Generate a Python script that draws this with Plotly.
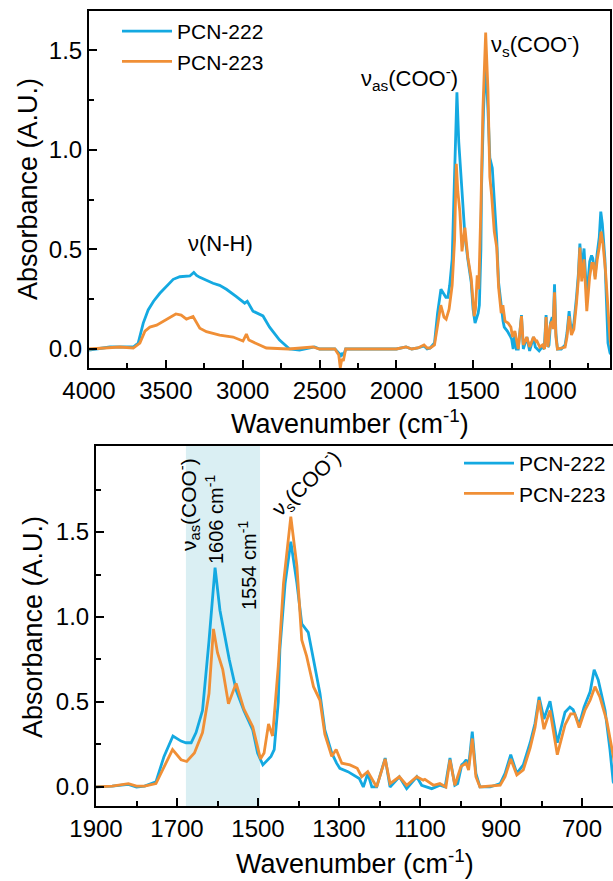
import plotly.graph_objects as go

# ---------------- data ----------------
wn_222 = [4000, 3900, 3864, 3800, 3712, 3680, 3647, 3615, 3580, 3539, 3500, 3452, 3409, 3344, 3318, 3300,
          3279, 3240, 3193, 3150, 3106, 3041, 2987, 2970, 2950, 2933, 2868, 2825, 2760, 2695, 2630, 2532,
          2500, 2400, 2375, 2365, 2355, 2345, 2330, 2200, 2000, 1937, 1900, 1860, 1820, 1800, 1780, 1752,
          1732, 1710, 1690, 1678, 1665, 1653, 1637, 1621, 1606, 1594, 1571, 1554, 1535, 1513, 1501, 1488,
          1468, 1460, 1450, 1446, 1433, 1419, 1404, 1392, 1376, 1363, 1347, 1335, 1318, 1306, 1298, 1278,
          1256, 1250, 1240, 1229, 1219, 1207, 1186, 1174, 1151, 1133, 1108, 1096, 1071, 1051, 1038, 1026,
          1014, 1007, 997, 992, 986, 980, 971, 962, 952, 927, 902, 890, 876, 861, 845, 828, 816, 806, 794,
          779, 761, 742, 730, 722, 707, 695, 680, 670, 660, 643, 631, 623, 610, 600]
abs_222 = [-0.005, 0.005, 0.01, 0.01, 0.01, 0.03, 0.13, 0.196, 0.24, 0.28, 0.31, 0.35, 0.363, 0.367, 0.385, 0.37,
           0.36, 0.345, 0.33, 0.32, 0.30, 0.263, 0.23, 0.24, 0.21, 0.19, 0.166, 0.11, 0.045, 0.0, -0.005, 0.01,
           0.0, 0.0, -0.02, -0.04, -0.02, -0.035, 0.0, 0.0, 0.0, 0.01, 0.0, 0.005, 0.015, 0.0, 0.005, 0.03,
           0.18, 0.30, 0.27, 0.26, 0.26, 0.32, 0.45, 0.86, 1.29, 1.04, 0.75, 0.57, 0.45, 0.335, 0.20, 0.13,
           0.18, 0.22, 0.5, 0.81, 1.2, 1.443, 1.2, 0.96, 0.91, 0.75, 0.55, 0.335, 0.2, 0.14, 0.11, 0.09,
           0.06, 0.05, 0.0, 0.08, 0.0, 0.0, 0.17, 0.0, 0.06, -0.01, 0.06, 0.01, -0.01, 0.01, 0.0, 0.17,
           0.01, 0.02, 0.13, 0.14, 0.16, 0.12, 0.325, 0.08, 0.0, 0.0, 0.02, 0.08, 0.19, 0.08, 0.13, 0.26, 0.375, 0.53, 0.40,
           0.505, 0.26, 0.44, 0.47, 0.455, 0.365, 0.47, 0.56, 0.69, 0.63, 0.45, 0.22, 0.03, -0.02, -0.03]

wn_223 = [4000, 3900, 3800, 3712, 3669, 3636, 3604, 3560, 3496, 3435, 3400, 3366, 3323, 3300, 3279, 3236,
          3150, 3063, 2998, 2976, 2960, 2890, 2846, 2700, 2543, 2500, 2400, 2375, 2365, 2355, 2345, 2330,
          2200, 2000, 1937, 1900, 1860, 1820, 1800, 1780, 1752, 1732, 1711, 1690, 1676, 1657, 1637, 1621,
          1610, 1600, 1587, 1573, 1554, 1535, 1513, 1494, 1485, 1474, 1464, 1450, 1437, 1419, 1404, 1392,
          1380, 1363, 1347, 1335, 1318, 1307, 1293, 1273, 1255, 1244, 1229, 1207, 1186, 1174, 1151, 1133,
          1108, 1092, 1088, 1067, 1051, 1036, 1026, 1014, 999, 986, 980, 971, 962, 952, 927, 902, 890, 876,
          861, 845, 828, 816, 806, 794, 779, 761, 742, 728, 718, 707, 693, 680, 668, 656, 639, 627, 618, 610, 600]
abs_223 = [0.0, 0.005, 0.01, 0.005, 0.03, 0.09, 0.11, 0.12, 0.15, 0.176, 0.17, 0.15, 0.163, 0.13, 0.104, 0.087,
           0.07, 0.06, 0.04, 0.075, 0.045, 0.02, 0.005, 0.0, 0.01, 0.0, 0.0, -0.03, -0.095, -0.05, -0.06, 0.0,
           0.0, 0.0, 0.01, 0.0, 0.005, 0.02, 0.005, 0.005, 0.02, 0.12, 0.22, 0.16, 0.15, 0.20, 0.32, 0.55,
           0.93, 0.79, 0.69, 0.49, 0.61, 0.46, 0.355, 0.165, 0.20, 0.37, 0.30, 0.71, 1.2, 1.59, 1.3, 0.865,
           0.77, 0.59, 0.51, 0.31, 0.18, 0.22, 0.14, 0.13, 0.11, 0.06, 0.09, 0.0, 0.165, 0.02, 0.06, 0.01,
           0.06, 0.04, 0.045, 0.01, 0.02, 0.0, 0.16, 0.01, 0.12, 0.14, 0.10, 0.285, 0.06, 0.0, 0.005, 0.01, 0.06, 0.165,
           0.07, 0.10, 0.23, 0.35, 0.51, 0.34, 0.45, 0.19, 0.365, 0.43, 0.43, 0.35, 0.45, 0.51, 0.59, 0.53, 0.39, 0.24, 0.12, 0.05, 0.0]

series_names = ["PCN-222", "PCN-223"]
y_ticks = [0.0, 0.5, 1.0, 1.5]
top_x_ticks = [4000, 3500, 3000, 2500, 2000, 1500, 1000]
bot_x_ticks = [1900, 1700, 1500, 1300, 1100, 900, 700]
shade_band = [1678, 1495]

# ---------------- styling ----------------
W, H = 613, 881
BLUE = "#14A9E1"
ORANGE = "#F08F36"
FONT = "Liberation Sans, Arial, sans-serif"

def px_x(p):
    return p / W

def px_y(p):
    return 1 - p / H

fig = go.Figure()
for (wn, ab, name, col) in [(wn_222, abs_222, series_names[0], BLUE), (wn_223, abs_223, series_names[1], ORANGE)]:
    fig.add_trace(go.Scatter(x=wn, y=ab, mode="lines", name=name, line=dict(color=col, width=2.8),
                             xaxis="x", yaxis="y", legend="legend"))
for (wn, ab, name, col) in [(wn_222, abs_222, series_names[0], BLUE), (wn_223, abs_223, series_names[1], ORANGE)]:
    fig.add_trace(go.Scatter(x=wn, y=ab, mode="lines", name=name, line=dict(color=col, width=2.8),
                             xaxis="x2", yaxis="y2", legend="legend2"))

axis_common = dict(showline=True, linecolor="black", linewidth=2, ticks="inside", ticklen=8, tickwidth=2,
                   tickcolor="black", showgrid=False, zeroline=False, automargin=False,
                   tickfont=dict(family=FONT, size=24, color="black"))

fig.update_layout(
    template="none",
    width=W, height=H, margin=dict(l=0, r=0, t=0, b=0, pad=0),
    paper_bgcolor="white", plot_bgcolor="white",
    font=dict(family=FONT, color="black"),
    xaxis=dict(domain=[px_x(89), px_x(610)], range=[4000, 610], tickvals=top_x_ticks, mirror=True,
               minor=dict(dtick=250, ticks="inside", ticklen=5, tickwidth=2, tickcolor="black"),
               anchor="y", **axis_common),
    yaxis=dict(domain=[px_y(368), px_y(11)], range=[-0.0955, 1.698], tickvals=y_ticks, tickformat=".1f",
               mirror=True, minor=dict(tickvals=[0.25, 0.75, 1.25], ticks="inside", ticklen=5, tickwidth=2,
                                       tickcolor="black"),
               anchor="x", **axis_common),
    xaxis2=dict(domain=[px_x(96), 1.0], range=[1900, 623.5], tickvals=bot_x_ticks, mirror=True,
                minor=dict(dtick=100, ticks="inside", ticklen=5, tickwidth=2, tickcolor="black"),
                anchor="y2", **axis_common),
    yaxis2=dict(domain=[px_y(806), px_y(446)], range=[-0.112, 2.006], tickvals=y_ticks, tickformat=".1f",
                mirror=False, minor=dict(tickvals=[0.25, 0.75, 1.25, 1.75], ticks="inside", ticklen=5,
                                         tickwidth=2, tickcolor="black"),
                anchor="x2", **axis_common),
    legend=dict(x=px_x(117), y=px_y(11), xanchor="left", yanchor="top", bgcolor="rgba(0,0,0,0)",
                font=dict(family=FONT, size=21, color="black"), tracegroupgap=0, itemwidth=50),
    legend2=dict(x=px_x(459), y=px_y(443), xanchor="left", yanchor="top", bgcolor="rgba(0,0,0,0)",
                 font=dict(family=FONT, size=21, color="black"), tracegroupgap=0, itemwidth=50),
    showlegend=True,
)

fig.add_shape(type="rect", xref="x2", yref="y2 domain", x0=shade_band[0], x1=shade_band[1], y0=0, y1=1,
              fillcolor="#DAEFF3", line=dict(width=0), layer="below")

ann = []
def add_text(text, x, y, size, angle=0, xa="center", ya="middle"):
    ann.append(dict(text=text, x=px_x(x), y=px_y(y), xref="paper", yref="paper", showarrow=False,
                    font=dict(family=FONT, size=size, color="black"), textangle=angle,
                    xanchor=xa, yanchor=ya))

# axis titles
add_text("Wavenumber (cm<sup>-1</sup>)", 350, 422, 27)
add_text("Wavenumber (cm<sup>-1</sup>)", 355, 862, 27)
add_text("Absorbance (A.U.)", 28, 189, 27, angle=-90)
add_text("Absorbance (A.U.)", 33, 627, 27, angle=-90)
# peak labels, top
add_text("ν(N-H)", 220, 243, 22)
add_text("ν<sub>as</sub>(COO<sup>-</sup>)", 410, 79, 22)
add_text("ν<sub>s</sub>(COO<sup>-</sup>)", 535, 44, 22)
# peak labels, bottom
add_text("ν<sub>as</sub>(COO<sup>-</sup>)", 188, 505, 21, angle=-90)
add_text("1606 cm<sup>-1</sup>", 214, 520, 20, angle=-90)
add_text("1554 cm<sup>-1</sup>", 247, 565, 20, angle=-90)
add_text("ν<sub>s</sub>(COO<sup>-</sup>)", 307, 483, 21, angle=-43)
fig.update_layout(annotations=ann)

fig.write_html("out.html")
